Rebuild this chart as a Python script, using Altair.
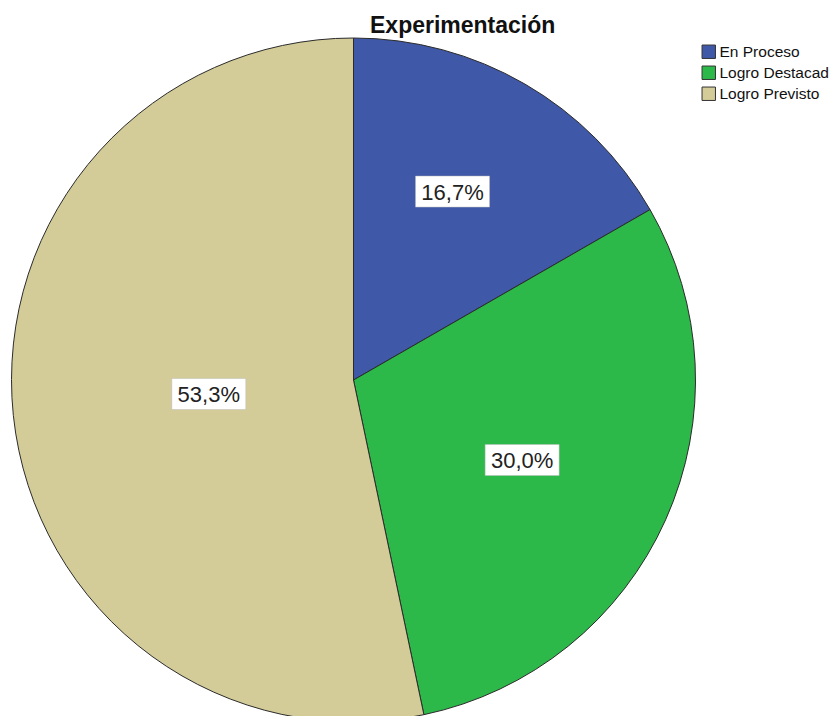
import altair as alt
import pandas as pd

categories = ["En Proceso", "Logro Destacad", "Logro Previsto"]
percents = [16.7, 30.0, 53.3]
labels = ["16,7%", "30,0%", "53,3%"]
order = [0, 1, 2]
colors = ["#3F58A8", "#2DB84A", "#D3CC98"]

CX, CY, R = 345.5, 372, 342
LBL_SHIFT_X = -10
BW, BH = 37, 15.5

df = pd.DataFrame({"cat": categories, "pct": percents, "lab": labels, "ord": order})

base = alt.Chart(df).transform_window(
    cum="sum(pct)", sort=[alt.SortField("ord")]
).transform_joinaggregate(total="sum(pct)").transform_calculate(
    mid="(datum.cum - datum.pct/2)/datum.total*2*PI",
    half="datum.pct/datum.total*PI",
).transform_calculate(
    lr=f"2*{R}*sin(datum.half)/(3*datum.half)"
).transform_calculate(
    lx=f"{CX + LBL_SHIFT_X} + datum.lr*sin(datum.mid)",
    ly=f"{CY} - datum.lr*cos(datum.mid)",
).transform_calculate(
    bx1=f"datum.lx - {BW}", bx2=f"datum.lx + {BW}",
    by1=f"datum.ly - {BH}", by2=f"datum.ly + {BH}",
)

pie = alt.Chart(df).mark_arc(radius=R, stroke="#2b2b2b", strokeWidth=1).encode(
    theta=alt.Theta("pct:Q", stack=True),
    order=alt.Order("ord:Q"),
    color=alt.Color(
        "cat:N",
        scale=alt.Scale(domain=categories, range=colors),
        legend=alt.Legend(
            title=None, orient="none", legendX=693, legendY=36,
            symbolType="square", symbolSize=180, symbolStrokeColor="#333",
            symbolStrokeWidth=1, labelFont="Liberation Sans", labelFontSize=15.5,
            labelColor="#111", rowPadding=3, labelOffset=3, labelLimit=300,
        ),
    ),
    x=alt.value(CX),
    y=alt.value(CY),
)

boxes = base.mark_rect(fill="white", stroke="#bbbbbb", strokeWidth=0.5).encode(
    x=alt.X("bx1:Q", scale=None, axis=None),
    x2="bx2:Q",
    y=alt.Y("by1:Q", scale=None, axis=None),
    y2="by2:Q",
)

texts = base.mark_text(font="Liberation Sans", fontSize=22, color="#222222",
                       baseline="middle", align="center", dy=1).encode(
    x=alt.X("lx:Q", scale=None, axis=None),
    y=alt.Y("ly:Q", scale=None, axis=None),
    text="lab:N",
)

chart = alt.layer(pie, boxes, texts).properties(
    width=824, height=708,
    autosize=alt.AutoSizeParams(type="none"),
    padding=0,
    title=alt.TitleParams("Experimentación", font="Liberation Sans", fontSize=23,
                          fontWeight="bold", color="#111", anchor="start",
                          baseline="top", dx=362, dy=34),
).configure_view(stroke=None)

chart.save("out.html", embed_options={"renderer": "svg", "actions": False})
